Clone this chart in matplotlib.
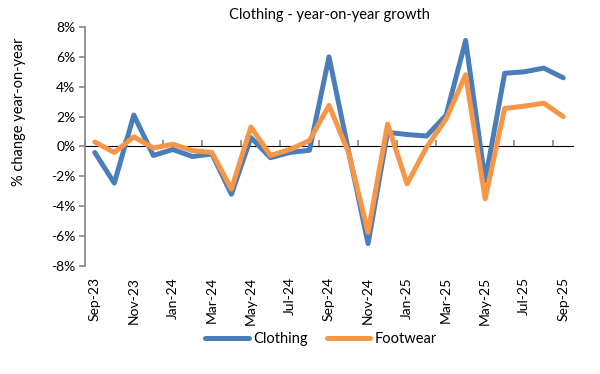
import matplotlib
matplotlib.use("Agg")
import matplotlib.pyplot as plt
import numpy as np

months = ["Sep-23", "Oct-23", "Nov-23", "Dec-23", "Jan-24", "Feb-24", "Mar-24", "Apr-24",
          "May-24", "Jun-24", "Jul-24", "Aug-24", "Sep-24", "Oct-24", "Nov-24", "Dec-24",
          "Jan-25", "Feb-25", "Mar-25", "Apr-25", "May-25", "Jun-25", "Jul-25", "Aug-25", "Sep-25"]
clothing = [-0.4, -2.45, 2.1, -0.6, -0.2, -0.67, -0.5, -3.2, 0.6, -0.75, -0.4, -0.25, 6.0,
            -0.3, -6.5, 0.95, 0.8, 0.7, 2.1, 7.1, -2.3, 4.9, 5.0, 5.25, 4.6]
footwear = [0.3, -0.4, 0.65, -0.1, 0.15, -0.27, -0.4, -2.85, 1.3, -0.6, -0.2, 0.4, 2.75,
            -0.4, -5.75, 1.5, -2.5, -0.05, 1.85, 4.8, -3.5, 2.55, 2.7, 2.9, 2.0]
yticks = [-8, -6, -4, -2, 0, 2, 4, 6, 8]

plt.rcParams['font.family'] = ['Lato', 'DejaVu Sans']
fig = plt.figure(figsize=(6, 3.74), dpi=100)
ax = fig.add_axes([0.1417, 0.2888, 0.955 - 0.1417, 0.9278 - 0.2888])

x = np.arange(len(months))
ax.plot(x, clothing, color="#4A7EBB", lw=3.6, solid_joinstyle="round", solid_capstyle="round",
        label="Clothing", zorder=3)
ax.plot(x, footwear, color="#F79646", lw=3.6, solid_joinstyle="round", solid_capstyle="round",
        label="Footwear", zorder=4)

ax.set_xlim(-0.5, len(months) - 0.5)
ax.set_ylim(-8, 8)
ax.set_yticks(yticks)
ax.set_yticklabels([f"{v}%" for v in yticks], fontsize=10)

for s in ["top", "right", "bottom"]:
    ax.spines[s].set_visible(False)
ax.spines["left"].set_color("#868686")
ax.spines["left"].set_linewidth(1.2)
ax.tick_params(axis="y", direction="out", length=4, color="#868686", width=1.2, pad=3)

ax.set_xticks(x[::2])
ax.set_xticklabels(months[::2], rotation=90, fontsize=10)
ax.tick_params(axis="x", length=0, pad=8)

sec = ax.secondary_xaxis(0.5)
sec.set_xticks(np.arange(-0.5, len(months), 2))
sec.set_xticklabels([])
sec.spines["bottom"].set_color("#868686")
sec.spines["bottom"].set_linewidth(1.2)
sec.tick_params(axis="x", direction="out", length=4, color="#868686", width=1.2)

ax.set_ylabel("% change year-on-year", fontsize=10.5)
ax.yaxis.set_label_coords(-0.121, 0.644)
ax.set_title("Clothing - year-on-year growth", fontsize=10.5, pad=6)

fig.legend(loc="center", bbox_to_anchor=(0.535, 0.093), ncol=2, frameon=False,
           fontsize=10.5, handlelength=3.0, handletextpad=0.3, columnspacing=1.3)

fig.savefig("out.png", dpi=100)
